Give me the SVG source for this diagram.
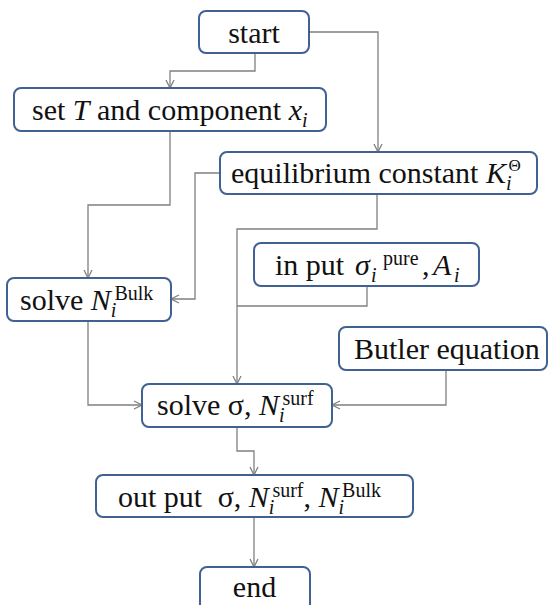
<svg xmlns="http://www.w3.org/2000/svg" width="548" height="605" viewBox="0 0 548 605">
<style>
.box{fill:#fff;stroke:#3f6293;stroke-width:2}
.t{font-family:'Liberation Serif','Times New Roman',serif;font-size:30px;fill:#111}
.s{font-size:20px}
.it{font-style:italic}
.c{fill:none;stroke:#808080;stroke-width:1.3}
</style>
<defs>
<marker id="arr" markerUnits="userSpaceOnUse" markerWidth="10" markerHeight="10" refX="9" refY="5" orient="auto">
<path d="M1,1 L9,5 L1,9" fill="none" stroke="#808080" stroke-width="1.3"/>
</marker>
</defs>
<rect width="548" height="605" fill="#fff"/>
<g id="connectors">
<path class="c" d="M255,53 V71 H170 V88" marker-end="url(#arr)"/>
<path class="c" d="M309,32 H378 V152" marker-end="url(#arr)"/>
<path class="c" d="M170,131 V205 H88 V278" marker-end="url(#arr)"/>
<path class="c" d="M220,173 H195 V299 H171" marker-end="url(#arr)"/>
<path class="c" d="M377,194 V229 H237 V384" marker-end="url(#arr)"/>
<path class="c" d="M367,286 V306 H237"/>
<path class="c" d="M88,321 V405 H142" marker-end="url(#arr)"/>
<path class="c" d="M446,370 V405 H332" marker-end="url(#arr)"/>
<path class="c" d="M237,427 V451 H254 V475" marker-end="url(#arr)"/>
<path class="c" d="M254,517 V567" marker-end="url(#arr)"/>
</g>
<g id="start">
<rect class="box" x="199" y="11" width="110" height="42" rx="7"/>
<text class="t" x="254" y="43" text-anchor="middle">start</text>
</g>
<g id="set">
<rect class="box" x="14" y="88" width="312" height="43" rx="7"/>
<text class="t" x="32" y="120">set <tspan class="it">T</tspan> and component <tspan class="it">x</tspan><tspan class="s it" dy="7">i</tspan></text>
</g>
<g id="equilibrium">
<rect class="box" x="220" y="152" width="317" height="42" rx="7"/>
<text class="t" x="231" y="183">equilibrium constant <tspan class="it">K</tspan><tspan class="s it" dy="7">i</tspan><tspan font-size="17" dx="-3" dy="-19">Θ</tspan></text>
</g>
<g id="input">
<rect class="box" x="254" y="243" width="225" height="43" rx="7"/>
<text class="t" y="275"><tspan x="275">in put</tspan><tspan class="it" x="355">σ</tspan><tspan class="s it" x="371" y="282">i</tspan><tspan class="s" x="383" y="265">pure</tspan><tspan x="422" y="275">,</tspan><tspan class="it" x="433">A</tspan><tspan class="s it" x="454" y="282">i</tspan></text>
</g>
<g id="solveBulk">
<rect class="box" x="7" y="278" width="164" height="43" rx="7"/>
<text class="t" x="20" y="310">solve <tspan class="it">N</tspan><tspan class="s it" dy="7">i</tspan><tspan class="s" dx="-2" dy="-17">Bulk</tspan></text>
</g>
<g id="butler">
<rect class="box" x="339" y="327" width="208" height="43" rx="7"/>
<text class="t" x="354" y="359">Butler equation</text>
</g>
<g id="solveSigma">
<rect class="box" x="142" y="384" width="190" height="43" rx="7"/>
<text class="t" x="157" y="415">solve σ, <tspan class="it">N</tspan><tspan class="s it" dy="7">i</tspan><tspan class="s" dx="-2" dy="-17">surf</tspan></text>
</g>
<g id="output">
<rect class="box" x="96" y="475" width="317" height="42" rx="7"/>
<text class="t" x="118" y="507">out put <tspan dx="8">σ, </tspan><tspan class="it">N</tspan><tspan class="s it" dy="7">i</tspan><tspan class="s" dx="-2" dy="-17">surf</tspan><tspan dy="10">, </tspan><tspan class="it">N</tspan><tspan class="s it" dy="7">i</tspan><tspan class="s" dx="-2" dy="-17">Bulk</tspan></text>
</g>
<g id="end">
<rect class="box" x="200" y="567" width="110" height="46" rx="7"/>
<text class="t" x="254.5" y="597" text-anchor="middle">end</text>
</g>
</svg>
